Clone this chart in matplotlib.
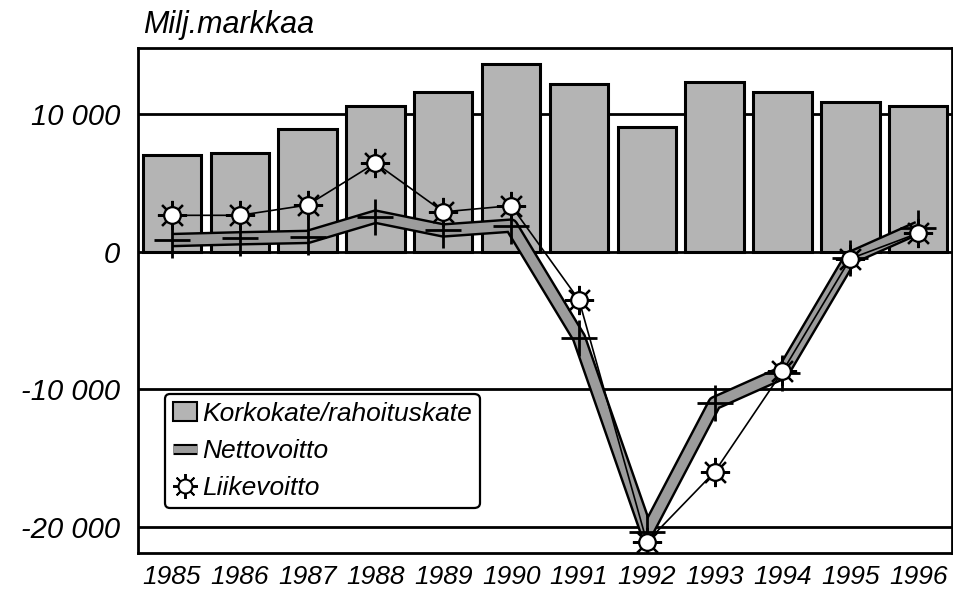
import matplotlib
matplotlib.use("Agg")
import matplotlib.pyplot as plt
import numpy as np
from matplotlib.lines import Line2D
from matplotlib.patches import Patch
import matplotlib.patheffects as pe

years = ["1985", "1986", "1987", "1988", "1989", "1990", "1991", "1992", "1993", "1994", "1995", "1996"]
korkokate = [7000, 7150, 8950, 10600, 11600, 13650, 12200, 9100, 12350, 11600, 10900, 10600]
nettovoitto = [850, 980, 1080, 2550, 1550, 1900, -6250, -20400, -11000, -8800, -450, 1750]
liikevoitto = [2650, 2650, 3400, 6450, 2900, 3350, -3500, -21100, -16000, -8700, -500, 1350]
yticks = [10000, 0, -10000, -20000]
yticklabels = ["10 000", "0", "-10 000", "-20 000"]

plt.rcParams['font.family'] = ['Liberation Sans', 'DejaVu Sans']
plt.rcParams['font.style'] = 'italic'

fig = plt.figure(figsize=(9.54, 5.95), dpi=100)
ax = fig.add_axes([0.1447, 0.0706, 0.8533, 0.8484])
x = np.arange(len(years))

for yv in yticks:
    ax.axhline(yv, color='black', lw=2, zorder=1)

ax.bar(x, korkokate, width=0.86, color='#b4b4b4', edgecolor='black', linewidth=2.2, zorder=2)

# Nettovoitto: thick outlined gray line with + markers
ax.plot(x, nettovoitto, color='#9c9c9c', lw=7, solid_capstyle='butt', zorder=3,
        path_effects=[pe.Stroke(linewidth=10.5, foreground='black'), pe.Normal()])
ax.plot(x, nettovoitto, linestyle='none', marker='+', ms=26, mew=2, color='black', zorder=4)

# Liikevoitto: thin line with sun markers
ax.plot(x, liikevoitto, color='black', lw=1.2, zorder=5)
ax.plot(x, liikevoitto, linestyle='none', marker=(8, 2, 0), ms=21, mew=1.6, color='black', zorder=6)
ax.plot(x, liikevoitto, linestyle='none', marker='o', ms=12, mfc='white', mec='black', mew=1.6, zorder=7)

ax.set_xlim(-0.5, len(years) - 0.5)
ax.set_ylim(-21900, 14800)
ax.set_yticks(yticks)
ax.set_yticklabels(yticklabels, fontsize=21)
ax.set_xticks(x)
ax.set_xticklabels(years, fontsize=19)
ax.tick_params(axis='both', length=0)
ax.tick_params(axis='y', pad=13)
ax.tick_params(axis='x', pad=9)
for s in ax.spines.values():
    s.set_linewidth(2)
    s.set_color('black')

fig.text(0.150, 0.958, "Milj.markkaa", fontsize=22, ha='left', va='center', style='italic')

h1 = Patch(facecolor='#b4b4b4', edgecolor='black', linewidth=1.5)
h2 = Line2D([], [], color='#9c9c9c', lw=5, solid_capstyle='butt',
            path_effects=[pe.Stroke(linewidth=8, foreground='black'), pe.Normal()])
h3a = Line2D([], [], linestyle='none', marker=(8, 2, 0), ms=18, mew=1.4, color='black')
h3b = Line2D([], [], linestyle='none', marker='o', ms=10, mfc='white', mec='black', mew=1.4)
leg = ax.legend([h1, h2, (h3a, h3b)], ["Korkokate/rahoituskate", "Nettovoitto", "Liikevoitto"],
                loc='upper left', bbox_to_anchor=(0.033, 0.315), fontsize=19,
                frameon=True, fancybox=True, framealpha=1, edgecolor='black',
                handlelength=0.9, handletextpad=0.2, borderpad=0.3, labelspacing=0.5,
                borderaxespad=0)
leg.get_frame().set_linewidth(1.6)
leg.set_zorder(10)

fig.savefig("out.png", dpi=100)
